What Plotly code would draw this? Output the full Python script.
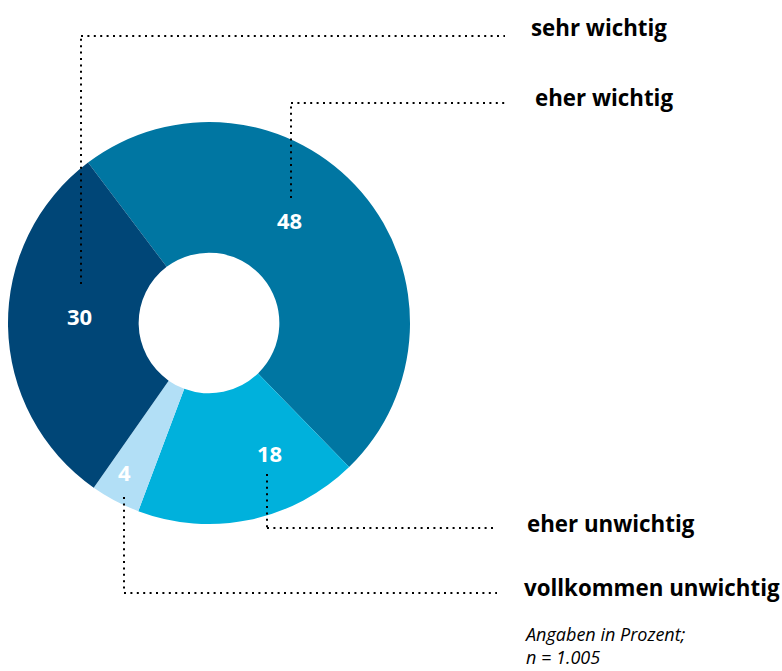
import plotly.graph_objects as go

# survey answers, clockwise starting at the 48 slice
labels = ['eher wichtig', 'eher unwichtig', 'vollkommen unwichtig', 'sehr wichtig']
values = [48, 18, 4, 30]
colors = ['#0076a2', '#00b1dc', '#b2dff6', '#004677']
note = ['Angaben in Prozent;', 'n = 1.005']

W, H = 782, 671
cx, cy, R = 209, 323, 201


def px(x):
    return x / W


def py(y):
    return 1 - y / H


fig = go.Figure(go.Pie(
    labels=labels, values=values, sort=False, direction='clockwise',
    rotation=-37, hole=0.35, textinfo='none', hoverinfo='label+value',
    marker=dict(colors=colors, line=dict(width=0)),
    domain=dict(x=[px(cx - R), px(cx + R)], y=[py(cy + R), py(cy - R)]),
    showlegend=False,
))

dot = dict(color='black', width=2, dash='2px,4.4px')

# leader lines: (path points), label position, value text position
leaders = {
    'sehr wichtig': ([(81, 284), (81, 36), (505, 36)], (529, 28), (79, 316)),
    'eher wichtig': ([(291, 198), (291, 103), (505, 103)], (533, 98), (289, 220)),
    'eher unwichtig': ([(267, 474), (267, 528), (495, 528)], (525, 523), (269, 453)),
    'vollkommen unwichtig': ([(124, 497), (124, 593), (497, 593)], (522, 587), (124, 472)),
}

shapes = []
annotations = []
for name, val in zip(labels, values):
    pts, lab, vpos = leaders[name]
    for (x0, y0), (x1, y1) in zip(pts[:-1], pts[1:]):
        shapes.append(dict(type='line', xref='paper', yref='paper',
                           x0=px(x0), y0=py(y0), x1=px(x1), y1=py(y1), line=dot))
    annotations.append(dict(text='<b>%s</b>' % name, x=px(lab[0]), y=py(lab[1]),
                            xref='paper', yref='paper', xanchor='left', yanchor='middle',
                            showarrow=False, font=dict(size=22.3, color='black')))
    annotations.append(dict(text='<b>%d</b>' % val, x=px(vpos[0]), y=py(vpos[1]),
                            xref='paper', yref='paper', xanchor='center', yanchor='middle',
                            showarrow=False, font=dict(size=22, color='white')))

annotations.append(dict(text='<i>%s</i>' % '<br>'.join(note), x=px(522), y=py(645),
                        xref='paper', yref='paper', xanchor='left', yanchor='middle', align='left',
                        showarrow=False, font=dict(size=18, color='black')))

fig.update_layout(
    width=W, height=H,
    margin=dict(l=0, r=0, t=0, b=0),
    paper_bgcolor='white', plot_bgcolor='white',
    font=dict(family='Open Sans, Noto Sans, sans-serif'),
    shapes=shapes, annotations=annotations,
)

# drop the default page margin so the chart fills the window
fig.write_html("out.html", config={'displayModeBar': False},
               post_script="document.body.style.margin='0';document.body.style.overflow='hidden';")
